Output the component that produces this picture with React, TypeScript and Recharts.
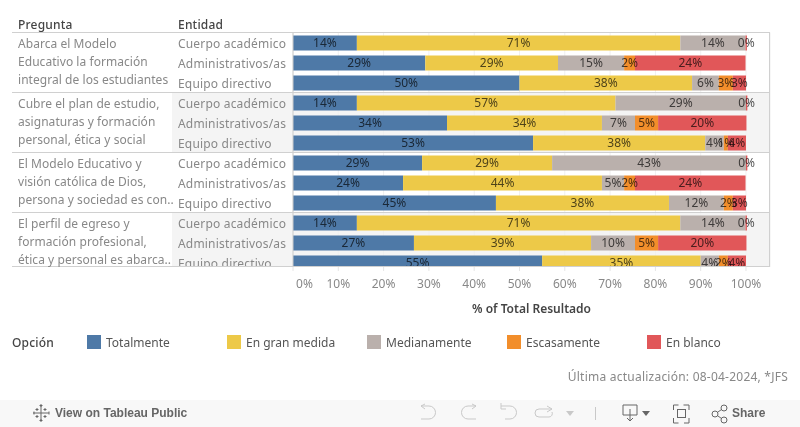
import { BarChart, Bar, XAxis, YAxis, CartesianGrid, LabelList } from 'recharts';

const FONT = '"Noto Sans", sans-serif';

const preguntas = [
  ['Abarca el Modelo', 'Educativo la formación', 'integral de los estudiantes'],
  ['Cubre el plan de estudio,', 'asignaturas y formación', 'personal, ética y social'],
  ['El Modelo Educativo y', 'visión católica de Dios,', 'persona y sociedad es con..'],
  ['El perfil de egreso y', 'formación profesional,', 'ética y personal es abarca..'],
];
const entidades = ['Cuerpo académico', 'Administrativos/as', 'Equipo directivo'];
const rowKeys = ['r0', 'r1', 'r2', 'r3', 'r4', 'r5', 'r6', 'r7', 'r8', 'r9', 'r10', 'r11'];

const totalmente = [14.1, 29.2, 50, 14.1, 34, 53, 28.5, 24.3, 44.8, 14.1, 26.7, 55];
const enGranMedida = [71.4, 29.3, 38.1, 57.1, 34.2, 38, 28.7, 43.9, 38.2, 71.4, 39.1, 35];
const medianamente = [14.4, 14.6, 5.9, 28.8, 7.3, 4.1, 42.8, 4.9, 12.1, 14.4, 9.7, 4];
const escasamente = [0, 2.4, 3.1, 0, 5.1, 0.9, 0, 2.4, 2, 0, 5.1, 2];
const enBlanco = [0.3, 24.4, 2.9, 0.3, 19.5, 4, 0.3, 24.4, 2.9, 0.3, 19.5, 4];

const xTicks = [0, 10, 20, 30, 40, 50, 60, 70, 80, 90, 100];

const series = [
  { key: 'totalmente', name: 'Totalmente', color: '#4e79a7', values: totalmente },
  { key: 'enGranMedida', name: 'En gran medida', color: '#edc948', values: enGranMedida },
  { key: 'medianamente', name: 'Medianamente', color: '#bab0ac', values: medianamente },
  { key: 'escasamente', name: 'Escasamente', color: '#f28e2b', values: escasamente },
  { key: 'enBlanco', name: 'En blanco', color: '#e15759', values: enBlanco },
];

const chartData = rowKeys.map((row, i) => {
  const d: Record<string, string | number> = { row };
  series.forEach((s) => {
    d[s.key] = s.values[i];
  });
  return d;
});

const margin = { top: 32.5, right: 30, bottom: 27.5, left: 178 };
const domain: [number, number] = [0, 105.3];

function EntityTick({ y, index }: any) {
  return (
    <text x={178} y={y} dy={5} fontSize={12} letterSpacing={0.18} fill="#888" fontFamily={FONT}>
      {entidades[index % 3]}
    </text>
  );
}

function PercentTick({ x, y, payload }: any) {
  const first = payload.value === 0;
  return (
    <text
      x={first ? x + 3 : x}
      y={y}
      dy={15}
      textAnchor={first ? 'start' : 'middle'}
      fontSize={12}
      fill="#888"
      fontFamily={FONT}
    >
      {payload.value}%
    </text>
  );
}

function Abs({ style, children }: any) {
  return <div style={{ position: 'absolute', whiteSpace: 'nowrap', ...style }}>{children}</div>;
}

function Toolbar() {
  const stroke = { fill: 'none', strokeWidth: 1 };
  return (
    <Abs style={{ left: 0, top: 400, width: 800, height: 27, background: '#f8f8f8' }}>
      <svg width={800} height={27} style={{ position: 'absolute', left: 0, top: 0 }}>
        <g stroke="#666" strokeWidth={1} fill="none">
          <path d="M41 5v16M33 13h16M37 8v3M35.500 9.500h3M45 8v3M43.500 9.500h3M37 15v3M35.500 16.500h3M45 15v3M43.500 16.500h3M41 4v3M39.500 5.500h3M41 19v3M39.500 20.500h3M34 11.500v3M49 11.500v3" />
        </g>
        <g {...stroke} stroke="#c9c9c9">
          <path d="M421 6l4-2 M421 6l4 3 M421 6h8a6 6 0 0 1 0 13h-8" />
          <path d="M476 6l-4-2 M476 6l-4 3 M476 6h-8a6 6 0 0 0 0 13h8" />
          <path d="M501 3v6h5 M501 6h9a6 6 0 0 1 0 13h-5" />
          <path d="M552 9h-13a3.500 3.500 0 0 0 0 8h10a3.500 3.500 0 0 0 3-5 M547 6l5 3-5 3" />
          <path d="M595.500 7v13" />
        </g>
        <path d="M566 11h8l-4 5z" fill="#c9c9c9" />
        <g {...stroke} stroke="#666">
          <path d="M630 15h7v-10h-14v10h7 M630 9v12 M627 18l3 3 3-3" />
          <path d="M673.500 10v-5h5 M683.500 5h5.500v5 M689 18v5h-5 M678.500 23h-5v-5" />
          <rect x={677.500} y={9.500} width={8} height={8} />
          <circle cx={715} cy={14} r={3} />
          <circle cx={724} cy={8} r={3} />
          <circle cx={724} cy={20} r={3} />
          <path d="M718 12l3.500-2.500 M718 16l3.500 2.500" />
        </g>
        <path d="M642 11h8l-4 5z" fill="#666" />
      </svg>
      <Abs style={{ left: 55, top: 6, fontSize: 12, fontWeight: 700, color: '#666', fontFamily: '"Liberation Sans", sans-serif' }}>
        View on Tableau Public
      </Abs>
      <Abs style={{ left: 732, top: 6, fontSize: 12, fontWeight: 700, color: '#666', fontFamily: '"Liberation Sans", sans-serif' }}>
        Share
      </Abs>
    </Abs>
  );
}

export default function App() {
  return (
    <div style={{ position: 'absolute', left: 0, top: 0, width: 800, height: 427, overflow: 'hidden', background: '#fff', fontFamily: FONT, fontSize: 12 }}>
      {/* shaded panes */}
      <Abs style={{ left: 172, top: 93, width: 598, height: 59, background: '#f4f4f4' }} />
      <Abs style={{ left: 172, top: 213, width: 598, height: 54, background: '#f4f4f4' }} />

      {/* bars, cut off at the bottom of the pane like the scrolling view */}
      <Abs style={{ left: 0, top: 0, width: 800, height: 267, overflow: 'hidden' }}>
        <BarChart width={800} height={300} data={chartData} layout="vertical" margin={margin}>
          <CartesianGrid horizontal={false} stroke="#f0f0f0" />
          <XAxis type="number" hide domain={domain} ticks={xTicks} allowDataOverflow />
          <YAxis
            type="category"
            dataKey="row"
            width={115}
            interval={0}
            tick={<EntityTick />}
            tickLine={false}
            axisLine={{ stroke: '#ccc' }}
          />
          {series.map((s) => (
            <Bar key={s.key} dataKey={s.key} stackId="a" fill={s.color} barSize={15} isAnimationActive={false}>
              <LabelList
                dataKey={s.key}
                position="center"
                formatter={(v: any) => `${Math.round(v)}%`}
                fontSize={12}
                fill="#555"
                fontFamily={FONT}
                style={{ mixBlendMode: 'multiply' }}
              />
            </Bar>
          ))}
        </BarChart>
      </Abs>

      {/* x axis; the bar here is empty, it only gives the axis something to scale */}
      <Abs style={{ left: 0, top: 0 }}>
        <BarChart width={800} height={320} data={chartData} layout="vertical" margin={{ top: 240, right: 30, bottom: 0, left: 293 }}>
          <XAxis
            type="number"
            domain={domain}
            ticks={xTicks}
            height={53}
            interval={0}
            tick={<PercentTick />}
            tickSize={4}
            tickLine={{ stroke: '#e6e6e6' }}
            axisLine={false}
            label={{ value: '% of Total Resultado', position: 'insideBottom', offset: 7, fontSize: 12, fontWeight: 600, fill: '#444', fontFamily: FONT }}
          />
          <YAxis type="category" dataKey="row" hide />
          <Bar dataKey="totalmente" fill="none" isAnimationActive={false} />
        </BarChart>
      </Abs>

      {/* separators */}
      {[32, 92, 152, 212, 266].map((y) => (
        <Abs key={y} style={{ left: 12, top: y, width: 758, height: 1, background: '#d0d0d0' }} />
      ))}
      <Abs style={{ left: 769, top: 32, width: 1, height: 235, background: '#d0d0d0' }} />

      {/* headers */}
      <Abs style={{ left: 18, top: 16, color: '#444', fontWeight: 500, letterSpacing: 0.2 }}>Pregunta</Abs>
      <Abs style={{ left: 178, top: 16, color: '#444', fontWeight: 500, letterSpacing: 0.2 }}>Entidad</Abs>

      {/* question labels */}
      {preguntas.map((lines, i) =>
        lines.map((line, j) => (
          <Abs key={line} style={{ left: 18, top: 34.5 + i * 60 + j * 18, color: '#888', letterSpacing: 0.05, height: 18, lineHeight: '18px' }}>
            {line}
          </Abs>
        ))
      )}

      {/* legend */}
      <Abs style={{ left: 12, top: 334, color: '#444', fontWeight: 500, letterSpacing: 0.2 }}>Opción</Abs>
      {series.map((s, i) => (
        <div key={s.key}>
          <Abs style={{ left: 87 + i * 140, top: 335, width: 14, height: 14, background: s.color }} />
          <Abs style={{ left: 106 + i * 140, top: 334, color: '#555' }}>{s.name}</Abs>
        </div>
      ))}

      <Abs style={{ right: 12, top: 368, color: '#888', letterSpacing: 0.23 }}>Última actualización: 08-04-2024, *JFS</Abs>

      <Toolbar />
    </div>
  );
}
